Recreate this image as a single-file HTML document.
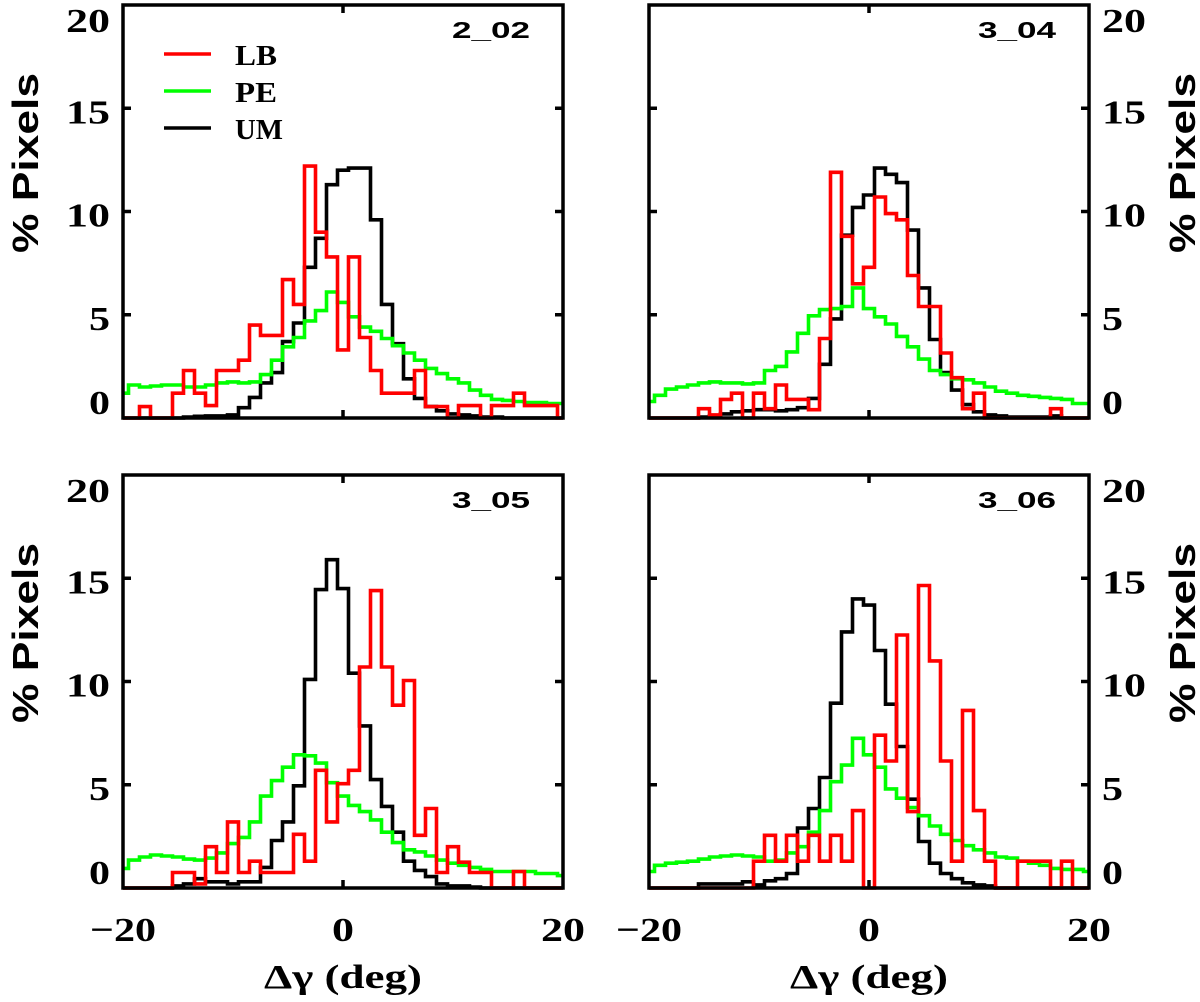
<!DOCTYPE html>
<html><head><meta charset="utf-8"><style>
html,body{margin:0;padding:0;background:#fff;}
svg{display:block;}
text{font-family:"Liberation Serif",serif;font-weight:bold;fill:#000;}
</style></head><body>
<svg id="chart" width="1200" height="1002" viewBox="0 0 1200 1002" xmlns="http://www.w3.org/2000/svg"></svg>
<script>
const bins = [-20,-19,-18,-17,-16,-15,-14,-13,-12,-11,-10,-9,-8,-7,-6,-5,-4,-3,-2,-1,0,1,2,3,4,5,6,7,8,9,10,11,12,13,14,15,16,17,18,19,20];
const yTicks = [0,5,10,15,20];
const xTickLabels = ["\u221220","0","20"];
const xTickValues = [-20,0,20];
const panelTitles = ["2_02","3_04","3_05","3_06"];
const seriesNames = ["LB","PE","UM"];
// panel 2_02
const lb202 = [0,0,0.55,0,0,1.2,2.3,1.2,0.6,2.3,2.3,2.8,4.5,4.0,4.0,6.7,5.5,12.2,9.0,7.8,3.3,7.8,3.9,2.3,1.2,1.2,1.2,2.3,0.55,0.55,0,0.6,0.6,0,0.6,0.6,1.2,0.6,0.6,0.6,0];
const pe202 = [1.2,1.6,1.5,1.55,1.6,1.6,1.5,1.5,1.6,1.7,1.75,1.7,1.75,2.1,2.8,3.45,3.9,4.7,5.2,6.1,5.6,4.9,4.4,4.2,3.85,3.5,3.15,2.8,2.4,2.15,1.9,1.7,1.35,1.1,0.9,0.85,0.8,0.75,0.75,0.7,0.7];
const um202 = [0,0,0,0,0,0,0.05,0.08,0.1,0.1,0.15,0.5,1.0,1.7,2.2,3.7,4.6,7.3,8.7,11.3,12.0,12.1,12.1,9.6,5.5,3.6,1.9,0.95,0.55,0.35,0.2,0.15,0.1,0.05,0.05,0,0,0,0,0,0];
// panel 3_04
const lb304 = [0,0,0,0,0,0.45,0.15,0.9,1.2,0,1.2,0.45,1.6,0.9,0.9,0.4,3.85,11.9,8.8,6.5,7.3,10.7,9.9,9.6,6.9,5.4,5.4,3.15,1.95,0.45,1.2,0,0,0,0,0,0,0.45,0,0,0];
const pe304 = [0.8,1.1,1.4,1.5,1.6,1.7,1.75,1.7,1.7,1.65,1.7,2.3,2.5,3.2,4.1,4.95,5.25,5.3,5.4,6.3,5.3,4.9,4.55,3.95,3.45,2.85,2.3,2.1,1.9,1.85,1.7,1.5,1.3,1.2,1.1,1.05,1.0,0.95,0.9,0.7,0.7];
const um304 = [0,0,0,0,0,0.05,0.1,0.2,0.3,0.35,0.4,0.4,0.35,0.4,0.5,0.95,2.6,4.8,8.85,10.2,10.8,12.1,11.8,11.4,9.1,6.3,3.8,2.2,1.35,0.65,0.3,0.15,0.1,0.05,0.05,0.05,0.05,0.1,0,0,0];
// panel 3_05
const lb305 = [0,0,0,0,0,0.75,0.75,0.2,2.0,0.75,3.2,0.75,1.3,0.75,0.75,0.75,2.6,1.3,5.7,3.2,5.05,5.7,10.7,14.4,10.7,8.85,10.05,2.55,3.85,0.75,2.0,1.25,0.75,0.75,0,0,0.8,0,0,0,0];
const pe305 = [0.95,1.35,1.5,1.6,1.55,1.5,1.4,1.35,1.45,1.7,2.15,2.45,3.2,4.45,5.2,5.85,6.45,6.4,6.05,5.1,4.45,4.0,3.7,3.3,2.7,2.2,1.85,1.75,1.55,1.35,1.2,1.1,1.0,0.9,0.8,0.8,0.8,0.8,0.7,0.7,0.6];
const um305 = [0,0,0,0,0,0.1,0.2,0.45,0.3,0.3,0.2,0.3,0.3,1.0,2.3,3.2,4.95,10.1,14.45,15.9,14.5,10.4,7.85,5.25,3.95,2.7,1.3,0.85,0.55,0.2,0.1,0.1,0.05,0,0,0,0,0,0,0,0];
// panel 3_06
const lb306 = [0,0,0,0,0,0,0,0,0,0,1.3,2.55,1.3,2.55,1.3,2.55,1.3,2.55,1.3,3.75,0,7.4,6.15,12.25,3.7,14.65,11.0,6.15,1.3,8.6,3.75,1.3,0,0,1.3,1.3,1.3,0,1.3,0,0];
const pe306 = [0.8,1.1,1.2,1.25,1.3,1.4,1.5,1.55,1.6,1.55,1.5,1.3,1.35,1.7,2.0,2.7,3.75,5.15,5.95,7.25,6.45,5.85,4.8,4.35,3.9,3.5,3.0,2.6,2.3,2.05,1.85,1.7,1.5,1.45,1.3,1.2,1.1,0.95,0.9,0.9,0.8];
const um306 = [0,0,0,0,0,0.2,0.2,0.2,0.2,0.3,0.15,0.35,0.45,0.7,2.9,3.85,5.35,8.95,12.4,14.0,13.7,11.5,8.9,6.85,4.3,2.25,1.2,0.7,0.45,0.25,0.15,0.1,0,0,0,0,0,0,0,0,0];

const NS = "http://www.w3.org/2000/svg";
const svg = document.getElementById("chart");
const colors = {LB:"#ff0000", PE:"#00ff00", UM:"#000000"};
const panels = [
  {x0:123, y0:5, side:"left", series:{LB:lb202,PE:pe202,UM:um202}, legend:true},
  {x0:649, y0:5, side:"right", series:{LB:lb304,PE:pe304,UM:um304}},
  {x0:123, y0:475, side:"left", series:{LB:lb305,PE:pe305,UM:um305}, xlab:true},
  {x0:649, y0:475, side:"right", series:{LB:lb306,PE:pe306,UM:um306}, xlab:true}
];
const W = 440, H = 413;
function mk(tag, attrs, parent){
  const e = document.createElementNS(NS, tag);
  for (const k in attrs) e.setAttribute(k, attrs[k]);
  (parent||svg).appendChild(e);
  return e;
}
panels.forEach((p, pi) => {
  const g = mk("g", {});
  
  
  const xs = v => p.x0 + (v + 20) / 40 * W;
  const ys = v => p.y0 + H - v / 20 * H;
  ["UM","PE","LB"].forEach(name => {
    const vals = p.series[name];
    let d = "";
    bins.forEach((b, i) => {
      const xa = xs(Math.max(-20, b - 0.5)), xb = xs(Math.min(20, b + 0.5));
      const y = ys(vals[i]);
      d += (i === 0 ? "M" : "L") + xa.toFixed(1) + "," + y.toFixed(1) + "L" + xb.toFixed(1) + "," + y.toFixed(1);
    });
    const path = mk("path", {d:d, fill:"none", stroke:colors[name], "stroke-width":3.6, "stroke-linejoin":"miter"}, g);
    
    
  });
  const fr = mk("rect", {x:p.x0, y:p.y0, width:W, height:H, fill:"none", stroke:"#000", "stroke-width":3.5}, g);
  
  
  yTicks.forEach(v => {
    if (v > 0 && v < 20) {
      mk("line", {x1:p.x0, x2:p.x0+8, y1:ys(v), y2:ys(v), stroke:"#000", "stroke-width":3.5}, g);
      mk("line", {x1:p.x0+W-8, x2:p.x0+W, y1:ys(v), y2:ys(v), stroke:"#000", "stroke-width":3.5}, g);
    }
  });
  mk("line", {x1:xs(0), x2:xs(0), y1:p.y0+H, y2:p.y0+H-8, stroke:"#000", "stroke-width":3.5}, g);
  mk("line", {x1:xs(0), x2:xs(0), y1:p.y0, y2:p.y0+8, stroke:"#000", "stroke-width":3.5}, g);
  yTicks.forEach(v => {
    let cy = ys(v) + 3;
    if (v === 20) cy = p.y0 + 15;
    if (v === 0) cy = p.y0 + H - 16;
    const t = mk("text", {y:cy + 12, "font-size":34}, g);
    if (p.side === "left") { t.setAttribute("x", 110); t.setAttribute("text-anchor","end"); }
    else { t.setAttribute("x", p.x0 + W + 13); }
    t.setAttribute("textLength", v >= 10 ? 44 : 21);
    t.setAttribute("lengthAdjust", "spacingAndGlyphs");
    t.textContent = String(v);
    
    
  });
  const tx = p.side === "left" ? 38 : 1195;
  const cyT = p.y0 + 158;
  const yt = mk("text", {x:tx, y:cyT, "font-size":36, "text-anchor":"middle", textLength:180, lengthAdjust:"spacingAndGlyphs", transform:"rotate(-90 " + tx + " " + cyT + ")", style:'font-family:"Liberation Sans",sans-serif'}, g);
  yt.textContent = "% Pixels";
  
  
  const pt = mk("text", {x:p.x0 + W - 33, y:p.y0 + 33, "font-size":23, "text-anchor":"end", textLength:78, lengthAdjust:"spacingAndGlyphs", style:'font-family:"Liberation Sans",sans-serif'}, g);
  pt.textContent = panelTitles[pi];
  
  
  if (p.xlab) {
    xTickValues.forEach((v, i) => {
      const t = mk("text", {x:xs(v), y:941, "font-size":34, "text-anchor":"middle"}, g);
      t.setAttribute("textLength", xTickLabels[i].length * 22);
      t.setAttribute("lengthAdjust", "spacingAndGlyphs");
      t.textContent = xTickLabels[i];
      
      
    });
    const xt = mk("text", {x:xs(0), y:988, "font-size":34, "text-anchor":"middle", textLength:158, lengthAdjust:"spacingAndGlyphs"}, g);
    xt.textContent = "\u0394\u03b3 (deg)";
    
    
  }
  if (p.legend) {
    seriesNames.forEach((n, i) => {
      const ly = 54 + i * 37;
      const lg = mk("g", {}, g);
      
      
      mk("line", {x1:164, x2:211, y1:ly, y2:ly, stroke:colors[n], "stroke-width":3.6}, lg);
      const t = mk("text", {x:235, y:ly + 11, "font-size":29, textLength: n === "UM" ? 48 : 42, lengthAdjust:"spacingAndGlyphs"}, lg);
      t.textContent = n;
    });
  }
});
</script>
</body></html>
